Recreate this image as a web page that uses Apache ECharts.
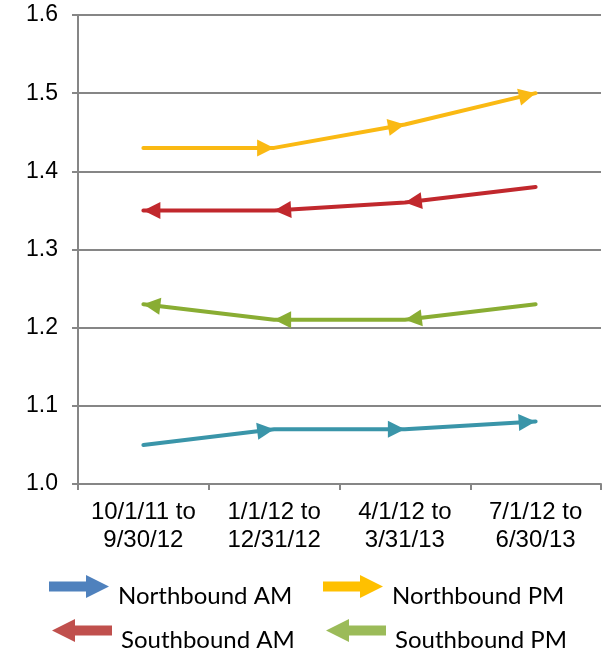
<!DOCTYPE html>
<html>
<head>
<meta charset="utf-8">
<script src="https://cdn.jsdelivr.net/npm/echarts@6/dist/echarts.min.js"></script>
<style>
html,body{margin:0;padding:0;background:#fff;}
#chart{width:612px;height:657px;}
</style>
</head>
<body>
<div id="chart"></div>
<script>
const categories = ['10/1/11 to\n9/30/12', '1/1/12 to\n12/31/12', '4/1/12 to\n3/31/13', '7/1/12 to\n6/30/13'];
const yTicks = [1.0, 1.1, 1.2, 1.3, 1.4, 1.5, 1.6];
const northboundAM = [1.05, 1.07, 1.07, 1.08];
const northboundPM = [1.43, 1.43, 1.46, 1.50];
const southboundAM = [1.35, 1.35, 1.36, 1.38];
const southboundPM = [1.23, 1.21, 1.21, 1.23];

const seriesDefs = [
  {name: 'Northbound AM', values: northboundAM, dir: 1, line: '#3A95A9', legend: '#4F81BD'},
  {name: 'Northbound PM', values: northboundPM, dir: 1, line: '#FAB913', legend: '#FFC000'},
  {name: 'Southbound AM', values: southboundAM, dir: -1, line: '#C1282D', legend: '#C0504D'},
  {name: 'Southbound PM', values: southboundPM, dir: -1, line: '#89AD33', legend: '#9BBB59'}
];

const rightArrow = 'path://M0,6.5 L37,6.5 L37,0 L60,11.5 L37,23 L37,16.5 L0,16.5 Z';
const leftArrow = 'path://M60,6.5 L23,6.5 L23,0 L0,11.5 L23,23 L23,16.5 L60,16.5 Z';
const headPath = 'path://M0,0 L14,7.5 L0,15 Z';

const legendPos = [[49, 575], [323, 575], [52, 619], [326, 619]];

const chart = echarts.init(document.getElementById('chart'), null, {renderer: 'canvas'});
const axisColor = '#868686';
const font = 'Liberation Sans, Arial, sans-serif';
const headSize = [17, 17];

const option = {
  animation: false,
  backgroundColor: '#fff',
  grid: {left: 78, right: 11, top: 15, bottom: 173, containLabel: false},
  legend: seriesDefs.map((s, i) => ({
    data: [{name: s.name, icon: s.dir > 0 ? rightArrow : leftArrow, itemStyle: {color: s.legend, borderWidth: 0}}],
    left: legendPos[i][0], top: legendPos[i][1], padding: 0,
    itemWidth: 60, itemHeight: 23, selectedMode: false,
    formatter: '{t|{name}}',
    textStyle: {fontFamily: 'Lato', fontSize: 24, color: '#000',
      rich: {t: {fontFamily: 'Lato', fontSize: 24, color: '#000', padding: [20, 0, 0, 4]}}}
  })),
  xAxis: {
    type: 'category', data: categories, boundaryGap: true,
    axisLine: {lineStyle: {color: axisColor, width: 2}},
    axisTick: {show: true, length: 6, lineStyle: {color: axisColor, width: 2}},
    axisLabel: {interval: 0, fontFamily: font, fontSize: 24, lineHeight: 28, color: '#000', margin: 14},
    splitLine: {show: false}
  },
  yAxis: {
    type: 'value', min: yTicks[0], max: yTicks[yTicks.length - 1], interval: 0.1,
    axisLine: {show: true, lineStyle: {color: axisColor, width: 2}},
    axisTick: {show: true, length: 6, lineStyle: {color: axisColor, width: 2}},
    axisLabel: {fontFamily: font, fontSize: 23, color: '#000', margin: 20, formatter: v => v.toFixed(1)},
    splitLine: {show: true, lineStyle: {color: axisColor, width: 2}}
  },
  series: seriesDefs.map(s => ({
    name: s.name, type: 'line', data: s.values, symbol: 'none',
    symbolSize: headSize, symbolKeepAspect: false, showAllSymbol: true,
    lineStyle: {color: s.line, width: 4, cap: 'round'},
    itemStyle: {color: s.line, borderWidth: 0},
    clip: false, silent: true
  }))
};
chart.setOption(option);

const L = headSize[0];
chart.setOption({
  series: seriesDefs.map((s, si) => {
    const n = s.values.length;
    const px = s.values.map((v, i) => chart.convertToPixel({seriesIndex: si}, [i, v]));
    const data = s.values.map((v, i) => {
      let from;
      if (s.dir > 0) {
        if (i === 0) return {value: v, symbol: 'none'};
        from = px[i - 1];
      } else {
        if (i === n - 1) return {value: v, symbol: 'none'};
        from = px[i + 1];
      }
      const to = px[i];
      const ang = Math.atan2(to[1] - from[1], to[0] - from[0]);
      return {
        value: v, symbol: headPath, symbolSize: headSize,
        symbolRotate: -ang * 180 / Math.PI,
        symbolOffset: [-Math.cos(ang) * L / 2, -Math.sin(ang) * L / 2]
      };
    });
    return {data: data};
  })
});
</script>
</body>
</html>
